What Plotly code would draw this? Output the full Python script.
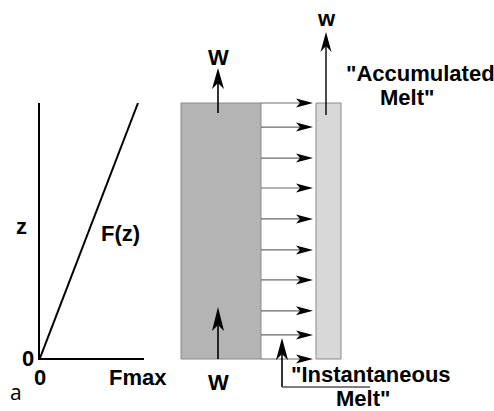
import plotly.graph_objects as go

# ---------------- data ----------------
# left panel: melting function F(z), linear from 0 to Fmax
fz_F = [0.0, 1.0]          # F / Fmax
fz_z = [0.0, 1.0]          # normalised height z
x_tick_vals = [0.0, 1.0]
x_tick_text = ["0", "Fmax"]
y_tick_vals = [0.0]
y_tick_text = ["0"]

# right panel: heights (normalised z) of the "instantaneous melt" transfer arrows
melt_arrow_z = [0.0, 0.094, 0.188, 0.309, 0.426, 0.547, 0.668, 0.785, 0.906, 1.0]

# labels
lbl_W = "W"
lbl_w = "w"
lbl_acc = ['"Accumulated', 'Melt"']
lbl_inst = ['"Instantaneous', 'Melt"']
lbl_F = "F(z)"
lbl_z = "z"
lbl_panel = "a"

# ---------------- layout helpers ----------------
W_PX, H_PX = 494, 411
Z0_PX, Z1_PX = 359, 103             # pixel rows of z=0 and z=1
PX_PER_Z = Z0_PX - Z1_PX
z_lo = (Z0_PX - H_PX) / PX_PER_Z
z_hi = Z0_PX / PX_PER_Z

FONT = "Liberation Sans, Arial, sans-serif"
DARK = "#b4b4b4"
LIGHT = "#d8d8d8"
EDGE = "#8a8a8a"
TXT = 22


def dz(px):
    return px / PX_PER_Z


def head(tip_x, tip_z, direction, length=16, half=4.5, notch=4):
    if direction == "right":
        pts = [(tip_x, tip_z), (tip_x - length, tip_z + dz(half)),
               (tip_x - length + notch, tip_z), (tip_x - length, tip_z - dz(half))]
        base = (tip_x - length + notch, tip_z)
    else:  # up
        pts = [(tip_x, tip_z), (tip_x + half, tip_z - dz(length)),
               (tip_x, tip_z - dz(length - notch)), (tip_x - half, tip_z - dz(length))]
        base = (tip_x, tip_z - dz(length - notch))
    path = "M " + " L ".join(f"{x:.3f},{y:.5f}" for x, y in pts) + " Z"
    return dict(type="path", path=path, xref="x2", yref="y2",
                fillcolor="black", line=dict(width=0)), base


shapes = []
annotations = []

# columns
dark_x = (181, 261)
light_x = (316, 341)
shapes.append(dict(type="rect", xref="x2", yref="y2", x0=dark_x[0], x1=dark_x[1],
                   y0=0, y1=1, fillcolor=DARK, line=dict(color=EDGE, width=1), layer="below"))
shapes.append(dict(type="rect", xref="x2", yref="y2", x0=light_x[0], x1=light_x[1],
                   y0=0, y1=1, fillcolor=LIGHT, line=dict(color=EDGE, width=1), layer="below"))

# transfer arrows
for z in melt_arrow_z:
    h, base = head(light_x[0] - 3, z, "right", length=17, half=4.5, notch=4)
    shapes.append(dict(type="line", xref="x2", yref="y2", x0=dark_x[1], x1=base[0],
                       y0=z, y1=z, line=dict(color="#6a6a6a", width=1.2)))
    shapes.append(h)


def up_arrow(x, z_from, z_to, length=21, half=6, notch=6, color="black", width=1.6):
    h, base = head(x, z_to, "up", length=length, half=half, notch=notch)
    shapes.append(dict(type="line", xref="x2", yref="y2", x0=x, x1=x,
                       y0=z_from, y1=base[1], line=dict(color=color, width=width)))
    shapes.append(h)


W_x = 218
up_arrow(W_x, dz(Z0_PX - 113), dz(Z0_PX - 68))
up_arrow(W_x, 0.0, dz(Z0_PX - 307), length=24)
w_x = 326
up_arrow(w_x, dz(Z0_PX - 115), dz(Z0_PX - 32), length=20, half=5.5, width=1.4)

# instantaneous melt pointer
inst_x = 282
inst_base_z = dz(Z0_PX - 387)
up_arrow(inst_x, inst_base_z, dz(Z0_PX - 338), length=22)
shapes.append(dict(type="line", xref="x2", yref="y2", x0=inst_x, x1=370,
                   y0=inst_base_z, y1=inst_base_z, line=dict(color="#555555", width=1.4)))


def text(t, x, z, size=TXT, ref="2", **kw):
    annotations.append(dict(text=f"<b>{t}</b>", x=x, y=z, xref="x" + ref, yref="y" + ref,
                            showarrow=False, font=dict(family=FONT, size=size, color="black"),
                            xanchor="center", yanchor="middle", **kw))


text(lbl_W, W_x, dz(Z0_PX - 57))
text(lbl_W, W_x, dz(Z0_PX - 382))
text(lbl_w, w_x, dz(Z0_PX - 18))
text(lbl_acc[0], 420, dz(Z0_PX - 73))
text(lbl_acc[1], 407, dz(Z0_PX - 97))
text(lbl_inst[0], 371, dz(Z0_PX - 374.5))
text(lbl_inst[1], 363, dz(Z0_PX - 398.5))

# left panel labels (in left-panel data units, with pixel shifts)
text(lbl_z, 0.0, 0.5, ref="", xshift=-19, yshift=4)
text(lbl_F, 0.49, 0.49, ref="", xshift=32)
for v, t in zip(x_tick_vals, x_tick_text):
    text(t, v, 0.0, ref="", yshift=-19)
for v, t in zip(y_tick_vals, y_tick_text):
    text(t, 0.0, v, ref="", xshift=-12)

annotations.append(dict(text=lbl_panel, x=16 / W_PX, y=1 - 392 / H_PX, xref="paper", yref="paper",
                        showarrow=False, font=dict(family="Open Sans, sans-serif", size=21, color="black"),
                        xanchor="center", yanchor="middle"))

fig = go.Figure()
fig.add_trace(go.Scatter(x=fz_F, y=fz_z, mode="lines", line=dict(color="black", width=2),
                         xaxis="x", yaxis="y", hoverinfo="skip", showlegend=False))
fig.add_trace(go.Scatter(x=[0], y=[0], mode="markers", marker=dict(opacity=0),
                         xaxis="x2", yaxis="y2", hoverinfo="skip", showlegend=False))

x_pad = (144 - 40) / (138 - 40)
fig.update_layout(
    width=W_PX, height=H_PX,
    margin=dict(l=0, r=0, t=0, b=0),
    paper_bgcolor="white", plot_bgcolor="rgba(0,0,0,0)",
    showlegend=False,
    xaxis=dict(domain=[40 / W_PX, 144 / W_PX], range=[0, x_pad], anchor="y",
               showline=True, linecolor="black", linewidth=2, showgrid=False, zeroline=False,
               showticklabels=False, ticks=""),
    yaxis=dict(domain=[1 - 358 / H_PX, 1 - 103 / H_PX], range=[0, 1], anchor="x",
               showline=True, linecolor="black", linewidth=2, showgrid=False, zeroline=False,
               showticklabels=False, ticks=""),
    xaxis2=dict(domain=[0, 1], range=[0, W_PX], anchor="y2", visible=False),
    yaxis2=dict(domain=[0, 1], range=[z_lo, z_hi], anchor="x2", visible=False),
    shapes=shapes,
    annotations=annotations,
)

fig.write_html("out.html", config={"displayModeBar": False},
               post_script="document.body.style.margin='0';document.body.style.overflow='hidden';")
